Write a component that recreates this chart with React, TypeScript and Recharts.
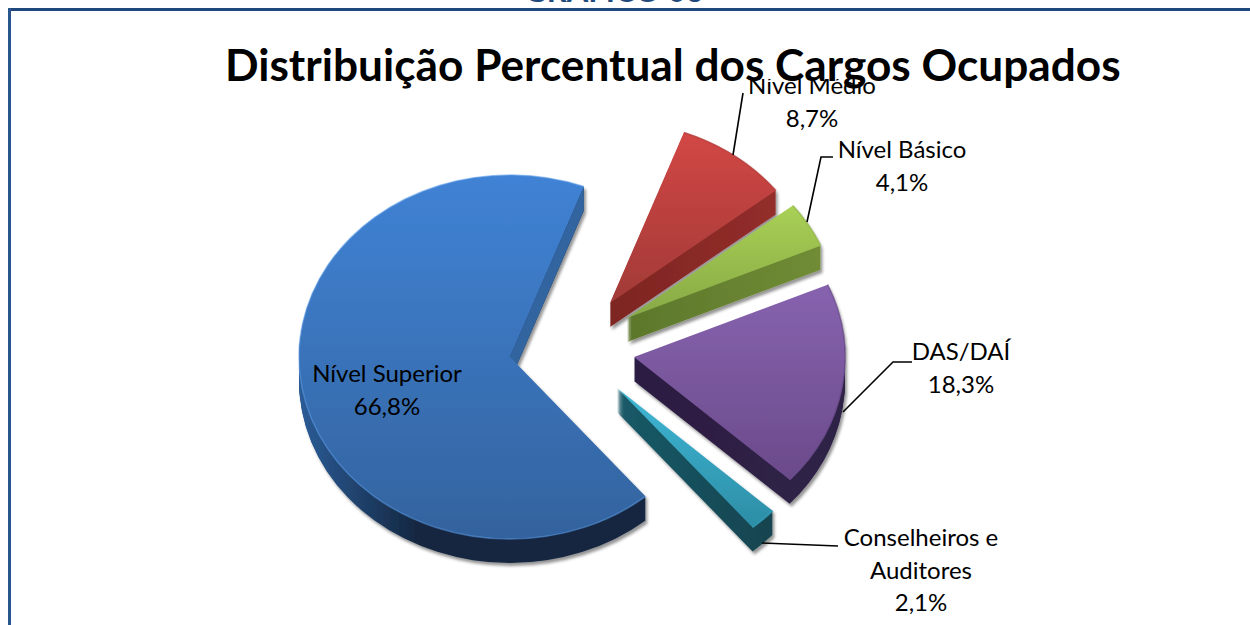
import { Pie, PieChart } from "recharts";

const categories = ["Nível Médio", "Nível Básico", "DAS/DAÍ", "Conselheiros e Auditores", "Nível Superior"];
const values = [8.7, 4.1, 18.3, 2.1, 66.8];
const valueLabels = ["8,7%", "4,1%", "18,3%", "2,1%", "66,8%"];
const labelLines = [["Nível Médio"], ["Nível Básico"], ["DAS/DAÍ"], ["Conselheiros e", "Auditores"], ["Nível Superior"]];

const title = "Distribuição Percentual dos Cargos Ocupados";
const heading = "GRÁFICO 06";

const data = categories.map((name, i) => ({ name, value: values[i] }));

// styling / layout of the exploded 3d look
const Y_SCALE = 182 / 211;
const DEPTH = 24;
const explode = [
  { dx: 100, dy: -54 },
  { dx: 117, dy: -39 },
  { dx: 124, dy: 0 },
  { dx: 107, dy: 31 },
  { dx: 0, dy: 0 },
];
const topColors = [
  ["#d24745", "#a13a37"],
  ["#a9d055", "#87a945"],
  ["#8763af", "#6b4a8a"],
  ["#3fb8d6", "#2d8da6"],
  ["#4082d5", "#33639e"],
];
const wallColors = [
  ["#7d2522", "#9a302d"],
  ["#5c772b", "#728e36"],
  ["#2c1e42", "#2f2147"],
  ["#1a5a68", "#113c46"],
  ["#2b5c97", "#14263f"],
];
const rimColors = ["#b53b39", "#94b84a", "#6f4f91", "#37a0bb", "#5c9ce8"];
const labelPos = [
  { x: 812, y: 94 },
  { x: 902, y: 158 },
  { x: 961, y: 360 },
  { x: 921, y: 546 },
  { x: 387, y: 382 },
];
const leaders = [
  "733,155 743,93",
  "807,222 821,157 833,157",
  "843,412 893,362 912,362",
  "762,543 838,546",
  "",
];
const LINE_GAP = 32.6;
const FONT = "Lato, sans-serif";

function Slice(props: any) {
  const { cx, cy, outerRadius, startAngle, endAngle, name } = props;
  const i = categories.indexOf(name);
  const ax = cx + explode[i].dx;
  const ay = cy + explode[i].dy;
  const rx = outerRadius;
  const ry = outerRadius * Y_SCALE;
  const pt = (deg: number) => {
    const a = (deg * Math.PI) / 180;
    return [ax + rx * Math.cos(a), ay - ry * Math.sin(a)];
  };
  const [x0, y0] = pt(startAngle);
  const [x1, y1] = pt(endAngle);
  const large = Math.abs(startAngle - endAngle) > 180 ? 1 : 0;
  const arc = `M${x0},${y0} A${rx},${ry} 0 ${large} 1 ${x1},${y1}`;
  const face = `M${ax},${ay} L${x0},${y0} A${rx},${ry} 0 ${large} 1 ${x1},${y1} Z`;
  const layers = [];
  for (let k = DEPTH; k > 0; k--) layers.push(k);
  const isBig = i === 4;

  return (
    <g>
      <defs>
        <linearGradient id={`top-${i}`} x1="0" y1="0" x2="0" y2="1">
          <stop offset="0%" stopColor={topColors[i][0]} />
          <stop offset="100%" stopColor={topColors[i][1]} />
        </linearGradient>
        <linearGradient
          id={`wall-${i}`}
          gradientUnits="userSpaceOnUse"
          x1={ax - (isBig ? rx : 0)}
          y1="0"
          x2={isBig ? ax - 90 : ax + rx}
          y2="0"
        >
          <stop offset="0%" stopColor={wallColors[i][0]} />
          <stop offset="100%" stopColor={wallColors[i][1]} />
        </linearGradient>
        <filter id={`shadow-${i}`} filterUnits="userSpaceOnUse" x="0" y="0" width="1250" height="625">
          <feDropShadow dx="2" dy="3" stdDeviation="1.6" floodColor="#000" floodOpacity="0.42" />
        </filter>
      </defs>
      <g filter={`url(#shadow-${i})`}>
        {layers.map((k) => (
          <path key={k} d={face} transform={`translate(0,${k})`} fill={`url(#wall-${i})`} />
        ))}
        {isBig && (
          <polygon
            points={`${ax},${ay} ${x1},${y1} ${x1},${y1 + DEPTH} ${ax},${ay + DEPTH}`}
            fill="#33659f"
          />
        )}
        <path d={face} fill={`url(#top-${i})`} />
      </g>
      <path d={arc} fill="none" stroke={rimColors[i]} strokeWidth={1.5} strokeOpacity={isBig ? 0.55 : 0.8} />
    </g>
  );
}

function SliceLabel(props: any) {
  const i = props.index;
  const pos = labelPos[i];
  const lines = [...labelLines[i], valueLabels[i]];
  return (
    <g>
      {leaders[i] && <polyline points={leaders[i]} fill="none" stroke="#000" strokeWidth={1.6} />}
      {lines.map((t, n) => (
        <text
          key={n}
          x={pos.x}
          y={pos.y + n * LINE_GAP}
          textAnchor="middle"
          fontFamily={FONT}
          fontSize={24}
          fill="#000"
        >
          {t}
        </text>
      ))}
    </g>
  );
}

export default function App() {
  return (
    <div style={{ position: "absolute", left: 0, top: 0, width: 1250, height: 625, overflow: "hidden", background: "#fff" }}>
      <PieChart width={1250} height={625} margin={{ top: 0, right: 0, bottom: 0, left: 0 }}>
        <Pie
          data={data}
          dataKey="value"
          nameKey="name"
          cx={510}
          cy={357}
          innerRadius={0}
          outerRadius={211}
          startAngle={69.5}
          endAngle={-290.5}
          stroke="none"
          shape={(p: any) => <Slice {...p} />}
          label={(p: any) => <SliceLabel {...p} />}
          labelLine={false}
          isAnimationActive={false}
        />
      </PieChart>
      {/* title box sits over the chart and hides the top of the Nível Médio label */}
      <svg width={1250} height={625} style={{ position: "absolute", left: 0, top: 0, pointerEvents: "none" }}>
        <rect x={215} y={14} width={915} height={65} fill="#fff" />
        <text x={614} y={2} textAnchor="middle" fontFamily={FONT} fontWeight={700} fontSize={31} fill="#1f497d">
          {heading}
        </text>
        <rect x={8} y={8} width={1242} height={3} fill="#1f497d" />
        <rect x={8} y={8} width={3} height={617} fill="#2a5690" />
        <text x={225} y={81} fontFamily={FONT} fontWeight={700} fontSize={44.2} fill="#000">
          {title}
        </text>
      </svg>
    </div>
  );
}
